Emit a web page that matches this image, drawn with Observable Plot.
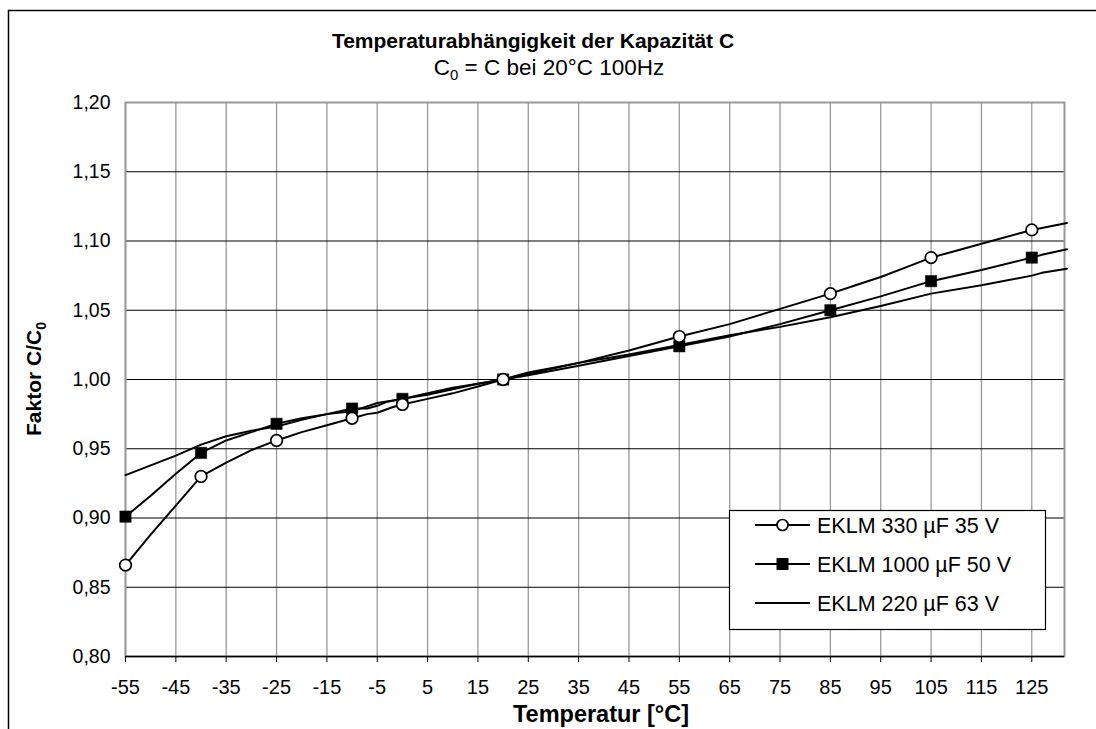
<!DOCTYPE html>
<html>
<head>
<meta charset="utf-8">
<script src="https://cdn.jsdelivr.net/npm/d3@7"></script>
<script src="https://cdn.jsdelivr.net/npm/@observablehq/plot@0.6"></script>
<style>
  html, body { margin: 0; padding: 0; background: #fff; }
  #chart { width: 1096px; height: 729px; }
  svg text { font-family: "Liberation Sans", Arial, sans-serif; }
</style>
</head>
<body>
<div id="chart"></div>
<script>
// ---- data ----
const titleText = "Temperaturabhängigkeit der Kapazität C";
const xLabel = "Temperatur [°C]";
const seriesNames = ["EKLM 330 µF 35 V", "EKLM 1000 µF 50 V", "EKLM 220 µF 63 V"];

const xTicks = [-55, -45, -35, -25, -15, -5, 5, 15, 25, 35, 45, 55, 65, 75, 85, 95, 105, 115, 125];
const yTicks = [0.80, 0.85, 0.90, 0.95, 1.00, 1.05, 1.10, 1.15, 1.20];

const markerTemps = [-55, -40, -25, -10, 0, 20, 55, 85, 105, 125];

const temps330 = [-55, -50, -45, -40, -37, -35, -30, -25, -20, -15, -10, -7, -5, -2, 0, 5, 10, 15, 20, 25, 35, 45, 55, 65, 75, 85, 90, 95, 100, 105, 110, 115, 125, 132];
const vals330  = [0.866, 0.888, 0.909, 0.930, 0.936, 0.940, 0.949, 0.956, 0.962, 0.967, 0.972, 0.975, 0.976, 0.980, 0.982, 0.986, 0.990, 0.995, 1.000, 1.005, 1.012, 1.021, 1.031, 1.040, 1.051, 1.062, 1.068, 1.074, 1.081, 1.088, 1.093, 1.098, 1.108, 1.113];

const temps1000 = [-55, -50, -45, -40, -35, -30, -25, -20, -15, -10, -7, -5, -3, 0, 5, 10, 15, 20, 25, 35, 45, 55, 65, 75, 85, 95, 105, 115, 125, 127, 132];
const vals1000  = [0.901, 0.916, 0.932, 0.947, 0.956, 0.962, 0.968, 0.972, 0.975, 0.979, 0.979, 0.981, 0.984, 0.986, 0.989, 0.993, 0.997, 1.000, 1.003, 1.010, 1.017, 1.024, 1.031, 1.040, 1.050, 1.060, 1.071, 1.079, 1.088, 1.090, 1.094];

const temps220 = [-55, -50, -45, -40, -35, -30, -25, -20, -15, -10, -5, 0, 5, 10, 15, 20, 25, 35, 45, 55, 65, 75, 85, 95, 105, 115, 125, 127, 132];
const vals220  = [0.931, 0.938, 0.945, 0.953, 0.959, 0.963, 0.966, 0.971, 0.975, 0.977, 0.983, 0.986, 0.990, 0.994, 0.997, 1.000, 1.004, 1.012, 1.018, 1.025, 1.032, 1.038, 1.045, 1.053, 1.062, 1.068, 1.075, 1.077, 1.080];

// ---- build tables ----
const s330 = temps330.map((t, i) => ({t, v: vals330[i]}));
const s1000 = temps1000.map((t, i) => ({t, v: vals1000[i]}));
const s220 = temps220.map((t, i) => ({t, v: vals220[i]}));
const m330 = s330.filter(d => markerTemps.includes(d.t));
const m1000 = s1000.filter(d => markerTemps.includes(d.t));

const fmtY = d => d.toFixed(2).replace(".", ",");
const fmtX = d => String(d);

const W = 1096, H = 729;
const mL = 125, mR = 32, mT = 102, mB = 73;

const chart = Plot.plot({
  width: W,
  height: H,
  marginLeft: mL,
  marginRight: mR,
  marginTop: mT,
  marginBottom: mB,
  style: {fontFamily: "'Liberation Sans', Arial, sans-serif", fontSize: "20px", background: "#fff", overflow: "visible"},
  x: {domain: [-55, 131.5], label: null},
  y: {domain: [0.8, 1.2], label: null},
  marks: [
    Plot.gridX(xTicks, {stroke: "#999", strokeOpacity: 1, strokeWidth: 1.3}),
    Plot.gridY(yTicks, {stroke: "#000", strokeOpacity: 1, strokeWidth: 1}),
    Plot.frame({stroke: "#999", strokeWidth: 2}),
    Plot.ruleY([0.8], {stroke: "#000", strokeWidth: 1.5}),
    Plot.axisX(xTicks, {tickSize: 6, tickPadding: 17, tickFormat: fmtX, fontSize: 20, stroke: "#000", fill: "#000", label: null}),
    Plot.axisY(yTicks, {tickSize: 0, tickPadding: 15, tickFormat: fmtY, fontSize: 19.5, fill: "#000", label: null}),
    Plot.line(s220, {x: "t", y: "v", stroke: "#000", strokeWidth: 2, clip: false}),
    Plot.line(s1000, {x: "t", y: "v", stroke: "#000", strokeWidth: 2, clip: false}),
    Plot.line(s330, {x: "t", y: "v", stroke: "#000", strokeWidth: 2, clip: false}),
    Plot.dot(m1000, {x: "t", y: "v", symbol: "square", r: 6.4, fill: "#000", stroke: "#000", strokeWidth: 0.5}),
    Plot.dot(m330, {x: "t", y: "v", symbol: "circle", r: 5.8, fill: "#fff", stroke: "#000", strokeWidth: 1.7})
  ]
});

document.getElementById("chart").appendChild(chart);

// ---- decorations: outer frame, titles, legend ----
const svg = d3.select(chart);
const font = "'Liberation Sans', Arial, sans-serif";

svg.append("path")
  .attr("d", `M8.5,${H} L8.5,10.5 L${W},10.5`)
  .attr("fill", "none").attr("stroke", "#000").attr("stroke-width", 1.5);

svg.append("text")
  .attr("x", 533).attr("y", 48)
  .attr("text-anchor", "middle")
  .attr("font-family", font).attr("font-size", 21).attr("font-weight", "bold")
  .attr("fill", "#000")
  .text(titleText);

const sub = svg.append("text")
  .attr("x", 549).attr("y", 75)
  .attr("text-anchor", "middle")
  .attr("font-family", font).attr("font-size", 22.5)
  .attr("fill", "#000");
sub.append("tspan").text("C");
sub.append("tspan").attr("font-size", 15).attr("dy", 5).text("0");
sub.append("tspan").attr("dy", -5).text(" = C bei 20°C 100Hz");

const yl = svg.append("text")
  .attr("transform", `translate(41,${(mT + H - mB) / 2}) rotate(-90)`)
  .attr("text-anchor", "middle")
  .attr("font-family", font).attr("font-size", 21).attr("font-weight", "bold")
  .attr("fill", "#000");
yl.append("tspan").text("Faktor C/C");
yl.append("tspan").attr("font-size", 14).attr("dy", 5).text("0");

svg.append("text")
  .attr("x", 601).attr("y", 722)
  .attr("text-anchor", "middle")
  .attr("font-family", font).attr("font-size", 23.5).attr("font-weight", "bold")
  .attr("fill", "#000")
  .text(xLabel);

// legend
const lg = svg.append("g").attr("transform", "translate(729,510)");
lg.append("rect").attr("x", 0.5).attr("y", 0.5).attr("width", 316).attr("height", 119)
  .attr("fill", "#fff").attr("stroke", "#000").attr("stroke-width", 1.2);
const rows = [15, 54, 93];
seriesNames.forEach((name, i) => {
  const g = lg.append("g").attr("transform", `translate(0,${rows[i]})`);
  g.append("line").attr("x1", 26).attr("x2", 81).attr("y1", 0).attr("y2", 0)
    .attr("stroke", "#000").attr("stroke-width", 2);
  if (i === 0) g.append("circle").attr("cx", 53.5).attr("cy", 0).attr("r", 5.5)
    .attr("fill", "#fff").attr("stroke", "#000").attr("stroke-width", 1.7);
  if (i === 1) g.append("rect").attr("x", 47.5).attr("y", -6).attr("width", 12).attr("height", 12)
    .attr("fill", "#000");
  g.append("text").attr("x", 88).attr("y", 8)
    .attr("text-anchor", "start")
    .attr("font-family", font).attr("font-size", 21.5).attr("fill", "#000")
    .text(name);
});
</script>
</body>
</html>
